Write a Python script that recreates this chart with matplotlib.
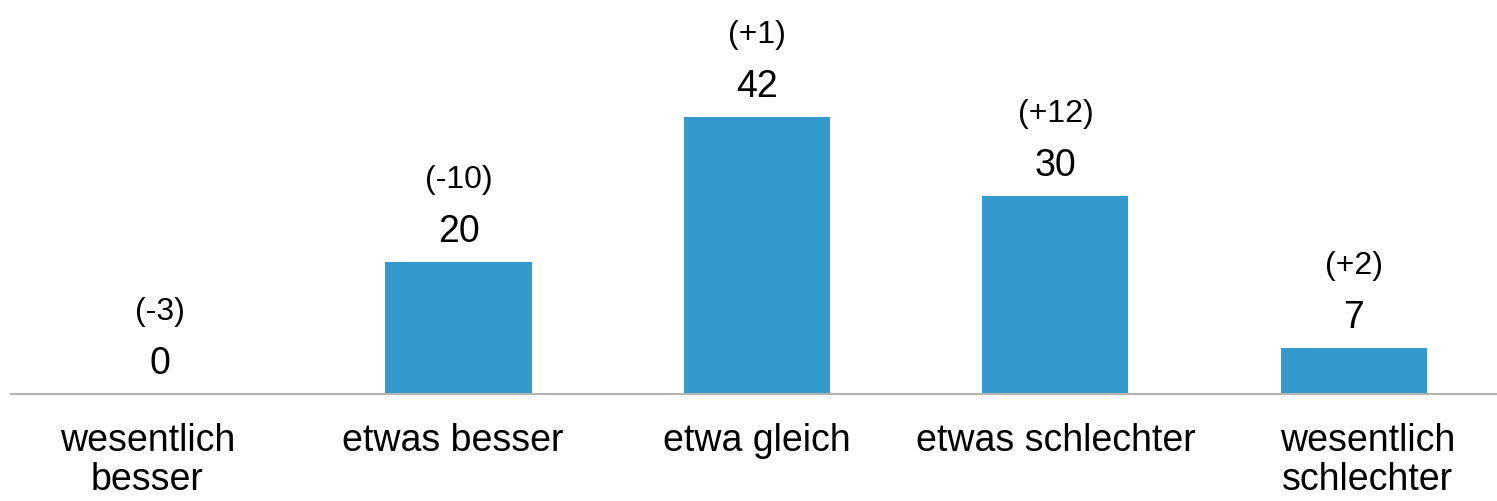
import matplotlib.pyplot as plt
import matplotlib.transforms as mtransforms

plt.rcParams['font.family'] = ['Liberation Sans', 'DejaVu Sans']

categories = ['wesentlich\nbesser', 'etwas besser', 'etwa gleich',
              'etwas schlechter', 'wesentlich\nschlechter']
values = [0, 20, 42, 30, 7]
changes = ['(-3)', '(-10)', '(+1)', '(+12)', '(+2)']


def main():
    fig = plt.figure(figsize=(14.97, 5.02), dpi=100)
    ax = fig.add_axes([11 / 1497, 107 / 502, 1486 / 1497, 395 / 502])

    x = range(len(categories))
    bars = ax.bar(x, values, width=0.49, color='#3399cc')

    for bar, v, c in zip(bars, values, changes):
        cx = bar.get_x() + bar.get_width() / 2
        ax.annotate(str(v), (cx, v), xytext=(0, 15), textcoords='offset points',
                    ha='center', va='baseline', fontsize=27)
        ax.annotate(c, (cx, v), xytext=(0, 54), textcoords='offset points',
                    ha='center', va='baseline', fontsize=23)

    ax.set_xlim(-0.5, 4.48)
    ax.set_ylim(0, 59.8)
    ax.set_xticks(list(x))
    ax.set_xticklabels(categories, fontsize=27, linespacing=1.1)
    ax.tick_params(axis='x', length=0, pad=20)

    # label boxes in the original are not quite centred under the bars
    shifts = [-13, -6, 0, 0, 14]
    for lbl, dx in zip(ax.get_xticklabels(), shifts):
        off = mtransforms.ScaledTranslation(dx / 100, 0, fig.dpi_scale_trans)
        lbl.set_transform(lbl.get_transform() + off)

    ax.set_yticks([])
    for s in ['top', 'right', 'left']:
        ax.spines[s].set_visible(False)
    ax.spines['bottom'].set_color('#b3b3b3')
    ax.spines['bottom'].set_linewidth(1.5)

    fig.savefig('out.png', dpi=100)
    plt.close('all')


if __name__ == '__main__':
    main()
